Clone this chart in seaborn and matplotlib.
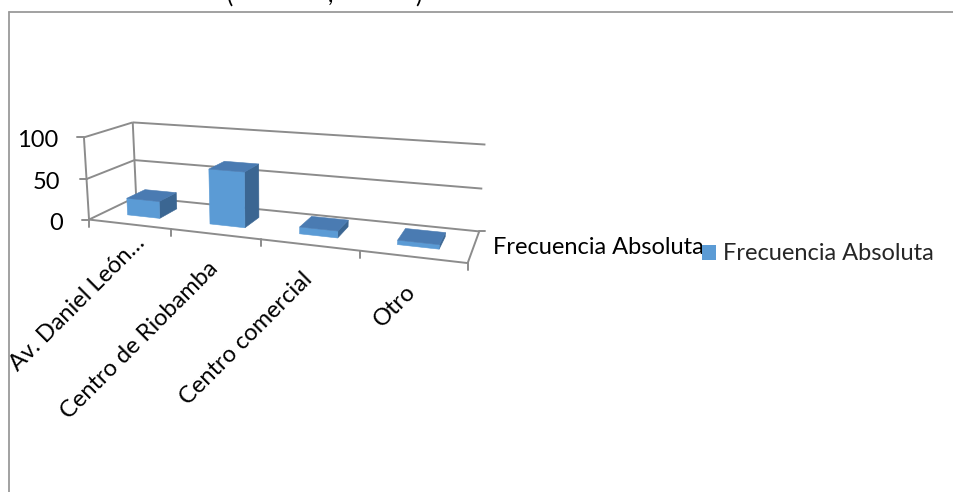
import numpy as np
import matplotlib
matplotlib.use("Agg")
import matplotlib.pyplot as plt
from matplotlib.patches import Polygon, Patch
import seaborn as sns

# ---- data -------------------------------------------------------------
categories = ["Av. Daniel León…", "Centro de Riobamba", "Centro comercial", "Otro"]
frecuencia = [21, 66, 8, 5]
value_ticks = [0, 50, 100]
series_name = "Frecuencia Absoluta"

# ---- style ------------------------------------------------------------
sns.set_theme(style="white")
plt.rcParams["font.family"] = ["Lato", "DejaVu Sans"]

W, H = 954, 492
fig = plt.figure(figsize=(W / 100, H / 100), dpi=100)
ax = fig.add_axes([0, 0, 1, 1])
ax.set_xlim(0, W)
ax.set_ylim(H, 0)
ax.axis("off")

blue = sns.color_palette(["#5B9BD5"])[0]
top_col = "#4A7BB2"
side_col = "#3B6692"
grid_col = "#8C8C8C"
FS = 17

# ---- perspective camera for the 3-D plot box ---------------------------
# world: (category position, depth 0..1, value) ; screen: pixels
ncat = len(categories)
vmax = value_ticks[-1]
world_pts = np.array([
    (0, 0, 0), (0, 0, 50), (0, 0, 100),
    (0, 1, 0), (0, 1, 50), (0, 1, 100),
    (4, 1, 0), (4, 1, 50), (4, 1, 100),
    (4, 0, 0), (1, 0, 0), (2, 0, 0), (3, 0, 0),
], dtype=float)
screen_pts = np.array([
    (90, 219), (86.7, 177.7), (83, 138),
    (135, 198.3), (135, 159.3), (133.3, 122.3),
    (479, 230), (483, 189), (485, 145),
    (468, 263), (171.7, 229.5), (261, 240), (359.3, 251),
], dtype=float)


def fit_camera(wp, sp):
    wn = wp.copy()
    wn[:, 2] /= 25.0
    s_mean = sp.mean(axis=0)
    sn = (sp - s_mean) / 100.0
    rows = []
    for (X, Y, Z), (u, v) in zip(wn, sn):
        rows.append([X, Y, Z, 1, 0, 0, 0, 0, -u * X, -u * Y, -u * Z, -u])
        rows.append([0, 0, 0, 0, X, Y, Z, 1, -v * X, -v * Y, -v * Z, -v])
    _, _, vt = np.linalg.svd(np.array(rows))
    return vt[-1].reshape(3, 4), s_mean


P, S_MEAN = fit_camera(world_pts, screen_pts)


def proj(x, d, z):
    h = P @ np.array([x, d, z / 25.0, 1.0])
    return h[:2] / h[2] * 100.0 + S_MEAN


def line3d(a, b, **kw):
    pa, pb = proj(*a), proj(*b)
    ax.plot([pa[0], pb[0]], [pa[1], pb[1]], color=grid_col, lw=1.4,
            solid_capstyle="butt", zorder=1, **kw)


# walls: back wall and left side wall gridlines
for z in value_ticks:
    line3d((0, 1, z), (ncat, 1, z))
    line3d((0, 0, z), (0, 1, z))
line3d((0, 0, 0), (0, 0, vmax))
line3d((0, 1, 0), (0, 1, vmax))
# floor edges
line3d((0, 0, 0), (ncat, 0, 0))
line3d((ncat, 0, 0), (ncat, 1, 0))

# value axis ticks and labels
for z in value_ticks:
    p = proj(0, 0, z)
    ax.plot([p[0] - 7, p[0]], [p[1], p[1]], color=grid_col, lw=1.4, zorder=1)
    ax.text(p[0] - 26, p[1] + 10, f"{z}", ha="right", va="baseline",
            fontsize=FS, color="black")

# category ticks
for k in range(ncat + 1):
    p = proj(k, 0, 0)
    ax.plot([p[0], p[0]], [p[1], p[1] + 7], color=grid_col, lw=1.4, zorder=1)
pr = proj(ncat, 1, 0)
ax.plot([pr[0], pr[0] + 6], [pr[1], pr[1]], color=grid_col, lw=1.4, zorder=1)

# category labels (rotated 45 degrees, clipped by the chart frame)
frame_clip = plt.Rectangle((9, 12), W, H, transform=ax.transData)
for i, lab in enumerate(categories):
    c = proj(i + 0.5, 0, 0)
    dx, dy = (5, 8) if i == 0 else (-8, 24)
    t = ax.text(c[0] + dx, c[1] + dy, lab, rotation=45, rotation_mode="anchor",
                ha="right", va="top", fontsize=FS, color="black")
    t.set_clip_path(frame_clip)

# depth axis (series) label
ax.text(493, 254, series_name, ha="left", va="baseline", fontsize=FS,
        color="black")

# ---- 3-D columns -------------------------------------------------------
x_pad, d0, d1 = 0.3, 0.3, 0.7
for i, v in enumerate(frecuencia):
    x0, x1 = i + x_pad, i + 1 - x_pad
    front = [proj(x0, d0, 0), proj(x1, d0, 0), proj(x1, d0, v), proj(x0, d0, v)]
    side = [proj(x1, d0, 0), proj(x1, d1, 0), proj(x1, d1, v), proj(x1, d0, v)]
    top = [proj(x0, d0, v), proj(x1, d0, v), proj(x1, d1, v), proj(x0, d1, v)]
    for poly, col in ((side, side_col), (front, blue), (top, top_col)):
        ax.add_patch(Polygon(poly, closed=True, facecolor=col, edgecolor=col,
                             lw=0.4, zorder=3))

# ---- legend -------------------------------------------------------------
ax.legend(handles=[Patch(facecolor=blue, edgecolor="none", label=series_name)],
          loc="center left", bbox_to_anchor=(702 / W, 1 - 254 / H),
          frameon=False, fontsize=FS, handlelength=0.6, handleheight=0.6,
          handletextpad=0.3, borderpad=0, borderaxespad=0)

# ---- chart frame and clipped title ------------------------------------
ax.plot([9, W], [12, 12], color="#9A9A9A", lw=1.3, zorder=0)
ax.plot([9, 9], [12, H], color="#9A9A9A", lw=1.3, zorder=0)
for xx, ch in ((230, "("), (330, ","), (418, ")")):
    ax.text(xx, 3, ch, ha="center", va="baseline", fontsize=FS, color="black")

fig.savefig("out.png", dpi=100)
